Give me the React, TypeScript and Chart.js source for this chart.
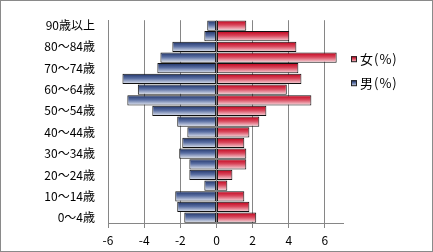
import React, { useEffect, useRef } from 'react';
import { Chart, registerables } from 'chart.js';

Chart.register(...registerables);

const categories = ['0～4歳', '5～9歳', '10～14歳', '15～19歳', '20～24歳', '25～29歳', '30～34歳', '35～39歳', '40～44歳', '45～49歳', '50～54歳', '55～59歳', '60～64歳', '65～69歳', '70～74歳', '75～79歳', '80～84歳', '85～89歳', '90歳以上'];
const maleValues = [-1.78, -2.17, -2.28, -0.67, -1.5, -1.5, -2.06, -1.89, -1.61, -2.17, -3.55, -4.93, -4.35, -5.2, -3.27, -3.1, -2.44, -0.67, -0.51];
const femaleValues = [2.2, 1.82, 1.54, 0.6, 0.88, 1.65, 1.65, 1.54, 1.82, 2.37, 2.76, 5.25, 3.89, 4.7, 4.53, 6.65, 4.42, 4.03, 1.65];
const xTicks = [-6, -4, -2, 0, 2, 4, 6];
const maleLabel = '男(%)';
const femaleLabel = '女(%)';

const FONT = '"Noto Sans CJK JP", "Noto Sans", sans-serif';
const GRID = '#868686';
const BAR_PCT = 0.96;

const maleStops: [number, string][] = [[0, '#1d3166'], [0.45, '#5a6fa3'], [1, '#e8ecf4']];
const femaleStops: [number, string][] = [[0, '#c0001a'], [0.45, '#d9475c'], [1, '#f8e0e4']];

function makeGradient(ctx: CanvasRenderingContext2D, y0: number, y1: number, stops: [number, string][]) {
  const g = ctx.createLinearGradient(0, y0, 0, y1);
  stops.forEach(([o, c]) => g.addColorStop(o, c));
  return g;
}

function barFill(stops: [number, string][]) {
  return (c: any) => {
    const chart = c.chart;
    const ys = chart.scales && chart.scales.y;
    if (c.type !== 'data' || !ys || typeof c.dataIndex !== 'number') return stops[1][1];
    const center = ys.getPixelForValue(c.dataIndex);
    const size = Math.abs(ys.getPixelForValue(1) - ys.getPixelForValue(0));
    if (!isFinite(center) || !isFinite(size) || size <= 0) return stops[1][1];
    const h = size * BAR_PCT;
    return makeGradient(chart.ctx, center - h / 2, center + h / 2, stops);
  };
}

const framePlugin = {
  id: 'frame',
  beforeDraw(chart: any) {
    const ctx = chart.ctx;
    ctx.save();
    ctx.fillStyle = '#ffffff';
    ctx.fillRect(0, 0, chart.width, chart.height);
    ctx.restore();
  },
  afterDraw(chart: any) {
    const ctx = chart.ctx;
    const area = chart.chartArea;
    ctx.save();
    const items = [
      { label: femaleLabel, stops: femaleStops },
      { label: maleLabel, stops: maleStops },
    ];
    const x0 = area.right + 8;
    items.forEach((it, i) => {
      const cy = area.top + 39 + i * 24;
      ctx.fillStyle = makeGradient(ctx, cy - 3, cy + 3, it.stops);
      ctx.fillRect(x0, cy - 3, 6, 6);
      ctx.strokeStyle = '#222';
      ctx.lineWidth = 1;
      ctx.strokeRect(x0 + 0.5, cy - 2.5, 5, 5);
      ctx.fillStyle = '#000';
      ctx.font = `13px ${FONT}`;
      ctx.textBaseline = 'middle';
      ctx.textAlign = 'left';
      try { (ctx as any).letterSpacing = '1px'; } catch (e) {}
      ctx.fillText(it.label, x0 + 9, cy);
      try { (ctx as any).letterSpacing = '0px'; } catch (e) {}
    });
    ctx.strokeStyle = '#8a8a8a';
    ctx.lineWidth = 1;
    ctx.strokeRect(0.5, 0.5, chart.width - 1, chart.height - 1);
    ctx.restore();
  },
};

export default function App() {
  const ref = useRef<HTMLCanvasElement | null>(null);
  useEffect(() => {
    if (!ref.current) return;
    const chart = new Chart(ref.current, {
      type: 'bar',
      data: {
        labels: categories,
        datasets: [
          {
            label: maleLabel,
            data: maleValues,
            backgroundColor: barFill(maleStops) as any,
            borderColor: '#111',
            borderWidth: 1,
            borderSkipped: false,
            grouped: false,
            barPercentage: BAR_PCT,
            categoryPercentage: 1,
          },
          {
            label: femaleLabel,
            data: femaleValues,
            backgroundColor: barFill(femaleStops) as any,
            borderColor: '#111',
            borderWidth: 1,
            borderSkipped: false,
            grouped: false,
            barPercentage: BAR_PCT,
            categoryPercentage: 1,
          },
        ],
      },
      options: {
        animation: false,
        responsive: false,
        indexAxis: 'y',
        layout: { padding: { top: 15, right: 90, left: 0, bottom: 0 } },
        plugins: {
          legend: { display: false },
          tooltip: { enabled: false },
        },
        scales: {
          x: {
            min: -6,
            max: 7,
            afterBuildTicks: (s: any) => {
              s.ticks = xTicks.map((v) => ({ value: v }));
            },
            afterFit: (s: any) => {
              s.height = 29;
            },
            grid: { color: GRID, tickLength: 5, drawTicks: true },
            border: { color: GRID },
            ticks: {
              color: '#000',
              padding: 5,
              font: { family: FONT, size: 12 },
              callback: (v: any) => String(v),
            },
          },
          y: {
            type: 'category',
            reverse: true,
            afterFit: (s: any) => {
              s.width = 108;
            },
            grid: { display: false, drawTicks: false },
            border: { display: true, color: GRID },
            ticks: {
              autoSkip: false,
              padding: 13,
              color: '#000',
              font: { family: FONT, size: 12 },
              callback: (v: any) => (Number(v) % 2 === 0 ? categories[Number(v)] : ''),
            },
          },
        },
      },
      plugins: [framePlugin],
    });
    chart.update();
    return () => chart.destroy();
  }, []);
  return (
    <div style={{ position: 'fixed', left: 0, top: 0, width: 433, height: 252 }}>
      <canvas ref={ref} width={433} height={252} style={{ display: 'block' }} />
    </div>
  );
}
